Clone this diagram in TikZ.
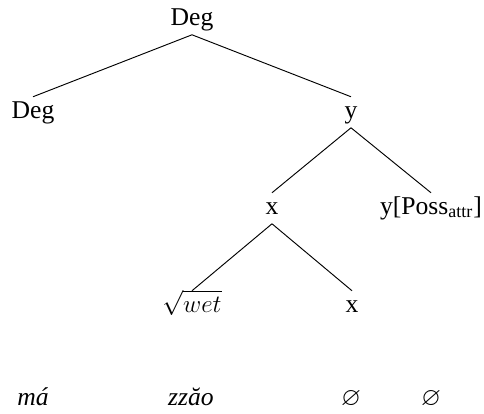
\documentclass[tikz,border=0pt]{standalone}
\usepackage{amssymb}
\usepackage{fontspec}
\setmainfont{Liberation Serif}

\begin{document}
\begin{tikzpicture}[x=0.48pt, y=-0.48pt,
        cat/.style={anchor=base, inner xsep=0pt, inner ysep=2pt, text height=8pt, text depth=2.5pt, font=\fontsize{12.3}{14}\selectfont},
        form/.style={anchor=base, inner sep=0pt, font=\fontsize{12.3}{14}\selectfont\itshape},
        branch/.style={-, line width=0.45pt}
    ]
    \useasboundingbox (0, 0) rectangle (484, 413);

    % Tree nodes
    \node[cat] (deg) at (192, 25) {Deg};
    \node[cat] (degl) at (33, 118) {Deg};
    \node[cat] (y) at (351, 118) {y};
    \node[cat] (x) at (272, 214) {x};
    \node[cat] (poss) at (431, 214) {y[Poss\textsubscript{attr}]};
    \node[cat] (root) at (192, 312) {$\sqrt{wet}$};
    \node[cat] (xl) at (352, 312) {x};

    % Forms
    \node[form] (ma) at (33, 405) {má};
    \node[form] (zao) at (191, 405) {zzăo};
    \node[form] (null1) at (351, 405) {$\varnothing$};
    \node[form] (null2) at (431, 405) {$\varnothing$};

    % Branches
    \draw[branch] (deg.south) -- (degl.north);
    \draw[branch] (deg.south) -- (y.north);
    \draw[branch] (y.south) -- (x.north);
    \draw[branch] (y.south) -- (poss.north);
    \draw[branch] (x.south) -- (root.north);
    \draw[branch] (x.south) -- (xl.north);

\end{tikzpicture}
\end{document}
